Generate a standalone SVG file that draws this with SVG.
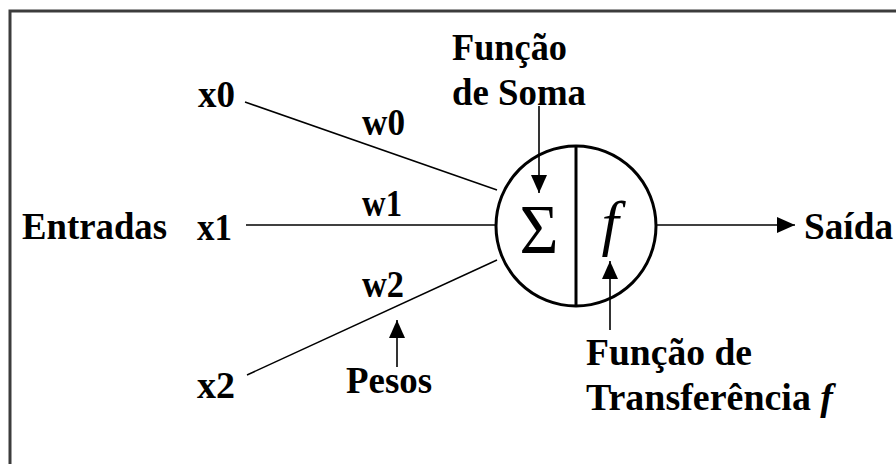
<svg xmlns="http://www.w3.org/2000/svg" width="896" height="464" viewBox="0 0 896 464">
<style>
.ln{stroke:#000;stroke-width:1.5;fill:none}
.ar{stroke:#000;stroke-width:1.6;fill:none}
</style>
<defs>
<marker id="ah" viewBox="0 0 18 16" refX="18" refY="8" markerWidth="18" markerHeight="16" markerUnits="userSpaceOnUse" orient="auto">
<path d="M0,0 L18,8 L0,16 z" fill="#000"/>
</marker>
</defs>
<rect width="896" height="464" fill="#fff"/>
<path d="M10,464 V11 H896" stroke="#3c3c3c" stroke-width="3" fill="none"/>

<g id="connectors">
<line class="ln" x1="245" y1="102" x2="497" y2="190"/>
<line class="ln" x1="246" y1="225" x2="496" y2="225"/>
<line class="ln" x1="247" y1="375" x2="497" y2="260"/>
<line class="ar" x1="657" y1="225" x2="795" y2="225" marker-end="url(#ah)"/>
<line class="ar" x1="539" y1="106" x2="539" y2="193" marker-end="url(#ah)"/>
<line class="ar" x1="610" y1="330" x2="610" y2="261" marker-end="url(#ah)"/>
<line class="ar" x1="397" y1="367" x2="397" y2="320" marker-end="url(#ah)"/>
</g>

<g font-family="Liberation Serif, serif" fill="#000">
<g id="neuron">
<circle cx="576" cy="226" r="80" fill="none" stroke="#000" stroke-width="3"/>
<line x1="576" y1="146" x2="576" y2="306" stroke="#000" stroke-width="3"/>
<text x="539" y="253" text-anchor="middle" font-size="70" textLength="39" lengthAdjust="spacingAndGlyphs">Σ</text>
<text x="610" y="244" text-anchor="middle" font-style="italic" font-size="62">f</text>
</g>

<g font-weight="bold" font-size="37">
<g id="funcao-soma">
<text x="452" y="60" textLength="115" lengthAdjust="spacingAndGlyphs">Função</text>
<text x="452" y="105" textLength="134" lengthAdjust="spacingAndGlyphs">de Soma</text>
</g>

<g id="inputs">
<text x="22" y="239" textLength="145" lengthAdjust="spacingAndGlyphs">Entradas</text>
<text x="198" y="107" textLength="37" lengthAdjust="spacingAndGlyphs">x0</text>
<text x="197" y="240" textLength="35" lengthAdjust="spacingAndGlyphs">x1</text>
<text x="197" y="398" textLength="38" lengthAdjust="spacingAndGlyphs">x2</text>
</g>

<g id="weights">
<text x="362" y="135" textLength="43" lengthAdjust="spacingAndGlyphs">w0</text>
<text x="362" y="216" textLength="40" lengthAdjust="spacingAndGlyphs">w1</text>
<text x="362" y="297" textLength="42" lengthAdjust="spacingAndGlyphs">w2</text>
<text x="346" y="393" textLength="86" lengthAdjust="spacingAndGlyphs">Pesos</text>
</g>

<g id="output">
<text x="804" y="239" textLength="89" lengthAdjust="spacingAndGlyphs">Saída</text>
</g>

<g id="funcao-transferencia">
<text x="586" y="365" textLength="166" lengthAdjust="spacingAndGlyphs">Função de</text>
<text x="586" y="410" textLength="247" lengthAdjust="spacingAndGlyphs">Transferência <tspan font-style="italic">f</tspan></text>
</g>
</g>
</g>
</svg>
